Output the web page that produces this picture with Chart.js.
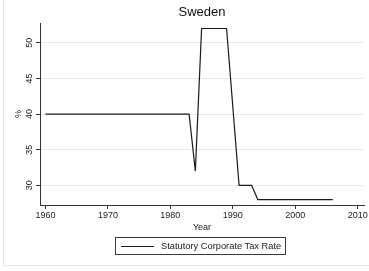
<!DOCTYPE html>
<html>
<head>
<meta charset="utf-8">
<script src="https://cdn.jsdelivr.net/npm/chart.js@4/dist/chart.umd.min.js"></script>
<style>
  html, body { margin: 0; padding: 0; background: #fff; }
  #wrap { position: relative; width: 369px; height: 271px; }
  #legend { position: absolute; left: 115px; top: 237px; width: 169px; height: 16px;
    border: 1px solid #3a3a3a; box-sizing: content-box; font-family: Arial, "Liberation Sans", sans-serif;
    font-size: 9.3px; color: #222; }
  #legend .sample { position: absolute; left: 5px; top: 8px; width: 33px; height: 0; border-top: 1.2px solid #1a1a1a; }
  #legend .txt { position: absolute; left: 45px; top: 2px; line-height: 12px; white-space: nowrap; }
</style>
</head>
<body>
<div id="wrap">
  <canvas id="c" width="369" height="271"></canvas>
  <div id="legend"><div class="sample"></div><div class="txt" id="legtxt"></div></div>
</div>
<script>
const chartTitle = "Sweden";
const seriesLabel = "Statutory Corporate Tax Rate";
const years = [1960, 1983, 1984, 1985, 1989, 1991, 1993, 1994, 2006];
const rates = [40, 40, 32, 52, 52, 30, 30, 28, 28];
const xTicks = [1960, 1970, 1980, 1990, 2000, 2010];
const yTicks = [30, 35, 40, 45, 50];
const xTitle = "Year";
const yTitle = "%";

document.getElementById('legtxt').textContent = seriesLabel;

const FONT = 'Arial, "Liberation Sans", sans-serif';

const outerBorder = {
  id: 'outerBorder',
  beforeDraw(chart) {
    const ctx = chart.ctx;
    ctx.save();
    ctx.strokeStyle = '#e6e6e6';
    ctx.lineWidth = 1;
    ctx.beginPath();
    ctx.moveTo(3.5, 0);
    ctx.lineTo(3.5, 265.5);
    ctx.lineTo(369, 265.5);
    ctx.stroke();
    ctx.restore();
  }
};

new Chart(document.getElementById('c'), {
  type: 'line',
  data: {
    datasets: [{
      label: seriesLabel,
      data: years.map((y, i) => ({ x: y, y: rates[i] })),
      borderColor: '#1a1a1a',
      borderWidth: 1.2,
      pointRadius: 0,
      tension: 0,
      fill: false
    }]
  },
  options: {
    responsive: false,
    animation: false,
    devicePixelRatio: 1,
    layout: { padding: { left: 3, right: 5, top: 0, bottom: 38 } },
    plugins: {
      legend: { display: false },
      tooltip: { enabled: false },
      title: {
        display: true, text: chartTitle, color: '#111', fullSize: false,
        font: { family: FONT, size: 13, weight: 'normal' },
        padding: { top: 5, bottom: 2.5 }
      }
    },
    scales: {
      x: {
        type: 'linear', min: 1959.13, max: 2011.0,
        afterBuildTicks: s => { s.ticks = xTicks.map(v => ({ value: v })); },
        afterFit: s => { s.height = 28; },
        ticks: { color: '#222', font: { family: FONT, size: 9 }, padding: 1, maxRotation: 0, autoSkip: false, callback: v => String(v) },
        grid: { drawOnChartArea: false, drawTicks: true, tickLength: 4, tickColor: '#333' },
        border: { color: '#333', width: 1 },
        title: { display: true, text: xTitle, color: '#222', font: { family: FONT, size: 9 }, padding: { top: 2.3, bottom: 0 } }
      },
      y: {
        type: 'linear', min: 27.24, max: 52.76,
        afterBuildTicks: s => { s.ticks = yTicks.map(v => ({ value: v })); },
        afterFit: s => { s.width = 37; },
        ticks: { color: '#222', font: { family: FONT, size: 9 }, padding: 1, minRotation: 90, maxRotation: 90, crossAlign: 'center', autoSkip: false },
        grid: { color: '#e8e8e8', lineWidth: 1, drawTicks: true, tickLength: 4, tickColor: '#333' },
        border: { color: '#333', width: 1 },
        title: { display: true, text: yTitle, color: '#222', font: { family: FONT, size: 9 }, padding: { top: 10, bottom: 0 } }
      }
    }
  },
  plugins: [outerBorder]
});
</script>
</body>
</html>
